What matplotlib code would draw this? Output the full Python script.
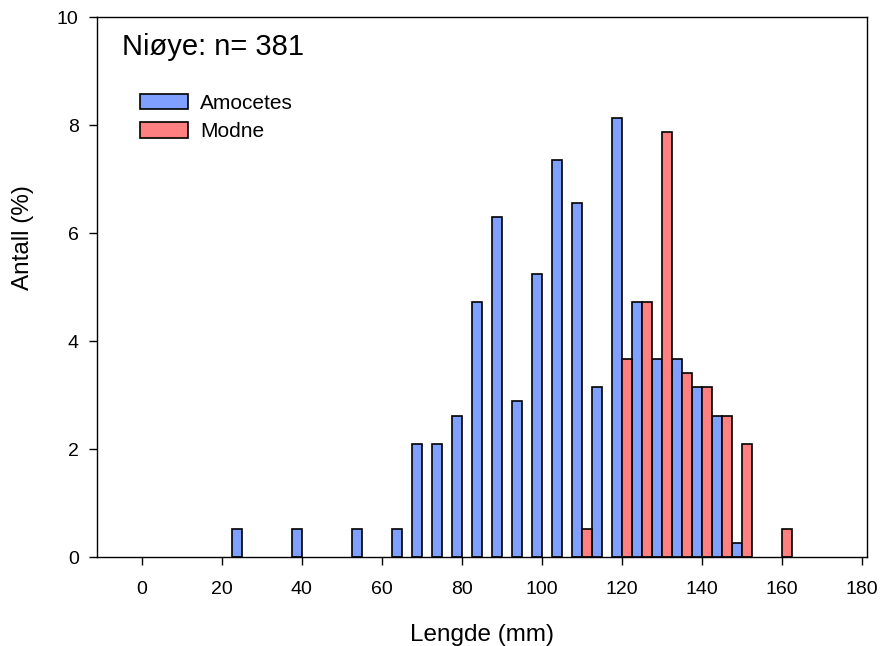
import matplotlib.pyplot as plt

# length classes (mm) and percent of all fish (n = 381)
amo_len = [25, 40, 55, 65, 70, 75, 80, 85, 90, 95, 100, 105, 110, 115,
           120, 125, 130, 135, 140, 145, 150]
amo_pct = [0.52, 0.52, 0.52, 0.52, 2.10, 2.10, 2.62, 4.72, 6.30, 2.89, 5.25,
           7.35, 6.56, 3.15, 8.14, 4.72, 3.67, 3.67, 3.15, 2.62, 0.26]
mod_len = [110, 120, 125, 130, 135, 140, 145, 150, 160]
mod_pct = [0.52, 3.67, 4.72, 7.87, 3.41, 3.15, 2.62, 2.10, 0.52]

plt.rcParams['font.family'] = ['Liberation Sans', 'DejaVu Sans']

fig = plt.figure(figsize=(8.81, 6.46), dpi=100)
ax = fig.add_axes([96.7/881, 1 - 557.3/646, 770/881, 540/646])

bw = 2.5
ax.bar(amo_len, amo_pct, width=-bw, align='edge', color='#80A0FF',
       edgecolor='black', linewidth=1.2, label='Amocetes')
ax.bar(mod_len, mod_pct, width=bw, align='edge', color='#FF8080',
       edgecolor='black', linewidth=1.2, label='Modne')

ax.set_xlim(-11.25, 181.25)
ax.set_ylim(0, 10)
ax.set_xticks(range(0, 181, 20))
ax.set_yticks(range(0, 11, 2))
ax.tick_params(axis='x', direction='out', length=6, width=1, pad=11, labelsize=14)
ax.tick_params(axis='y', direction='out', length=6, width=1, pad=7, labelsize=14)
for s in ax.spines.values():
    s.set_linewidth(1)

fig.text(481.7/881, 1 - 635/646, 'Lengde (mm)', ha='center', va='center', fontsize=17.5)
fig.text(23/881, 1 - 238/646, 'Antall (%)', ha='center', va='center',
         rotation=90, fontsize=17.5)
fig.text(122/881, 1 - 55/646, 'Niøye: n= 381', ha='left', va='baseline', fontsize=21)

ax.legend(loc='upper left', bbox_to_anchor=(140/881, 1 - 94/646),
          bbox_transform=fig.transFigure, frameon=False, fontsize=15,
          handlelength=2.3, handleheight=0.75, handletextpad=0.6,
          labelspacing=0.45, borderpad=0, borderaxespad=0)

fig.savefig('out.png', dpi=100)
